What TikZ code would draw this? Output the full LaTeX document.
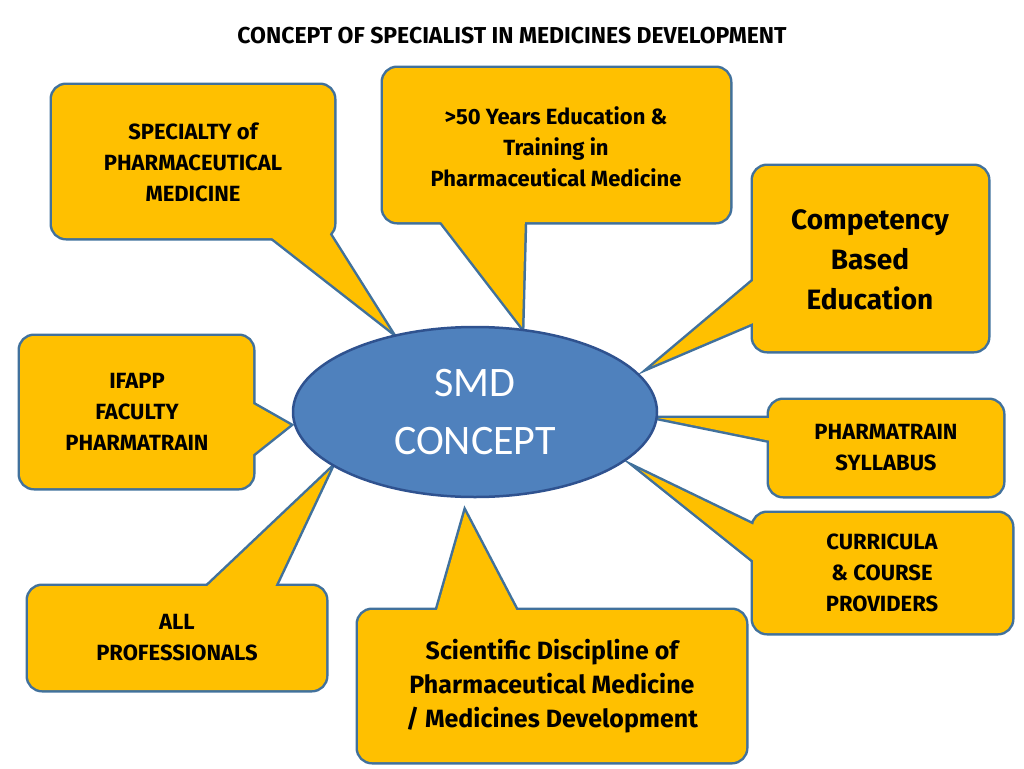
\documentclass[tikz,border=0pt]{standalone}
\usepackage{fontspec}
\setmainfont{Fira Sans}
\newfontfamily\calfont{Carlito}
\definecolor{boxfill}{HTML}{FFC000}
\definecolor{boxline}{HTML}{41719C}
\definecolor{ellfill}{HTML}{4F81BD}
\definecolor{ellline}{HTML}{2F528F}
\tikzset{
  outl/.style={draw=boxline,line width=5pt,rounded corners=14pt},
  outp/.style={draw=boxline,line width=5pt,line join=miter},
  infl/.style={fill=boxfill,rounded corners=14pt},
  infp/.style={fill=boxfill},
  txt/.style={align=center,font=\fontsize{22}{31}\selectfont\bfseries},
  bigtxt/.style={align=center,font=\fontsize{28}{40}\selectfont\bfseries},
}
\newcommand{\callout}[6]{%
  \draw[outl] #1 rectangle #2;
  \draw[outp] #3 -- #5 -- #4 -- cycle;
  \fill[infl] #1 rectangle #2;
  \fill[infp] #3 -- #5 -- #4 -- cycle;
}
\begin{document}
\begin{tikzpicture}[x=1pt,y=-1pt]
\useasboundingbox (0,0) rectangle (1024,768);
\node[font=\fontsize{23}{25}\selectfont\bfseries] (title) at (512,36) {CONCEPT OF SPECIALIST IN MEDICINES DEVELOPMENT};
\callout{(52,85)}{(334,238)}{(262,230)}{(327,230)}{(390,330)}{}
\callout{(383,68)}{(730,222)}{(435,214)}{(525,214)}{(522,327)}{}
\callout{(753,166)}{(988,351)}{(760,275)}{(760,320)}{(652,366)}{}
\callout{(20,336)}{(253,488)}{(246,400)}{(246,460)}{(290,425)}{}
\callout{(769,400)}{(1003,496)}{(776,418)}{(776,442)}{(658,418)}{}
\callout{(753,513)}{(1012,633)}{(760,528)}{(760,566)}{(640,470)}{}
\callout{(28,586)}{(326,690)}{(200,593)}{(272,593)}{(330,470)}{}
\callout{(358,610)}{(746,762)}{(435,617)}{(520,617)}{(465,512)}{}
\node[txt] (n1) at (193,162) {SPECIALTY of\\PHARMACEUTICAL\\MEDICINE};
\node[txt] (n2) at (556,147) {>50 Years Education \&\\Training in\\Pharmaceutical Medicine};
\node[bigtxt] (n3) at (870,260) {Competency\\Based\\Education};
\node[txt] (n4) at (137,412) {IFAPP\\FACULTY\\PHARMATRAIN};
\node[txt] (n5) at (886,448) {PHARMATRAIN\\SYLLABUS};
\node[txt] (n6) at (882,573) {CURRICULA\\\& COURSE\\PROVIDERS};
\node[txt] (n7) at (177,638) {ALL\\PROFESSIONALS};
\node[txt,font=\fontsize{25}{34}\selectfont\bfseries] (n8) at (552,686) {Scientific Discipline of\\Pharmaceutical Medicine\\/ Medicines Development};
\draw[fill=ellfill,draw=ellline,line width=2.5pt] (475,412) ellipse [x radius=182, y radius=85];
\node[align=center,text=white,font=\calfont\fontsize{42}{58}\selectfont] (smd) at (475,412) {SMD\\CONCEPT};
\end{tikzpicture}
\end{document}
